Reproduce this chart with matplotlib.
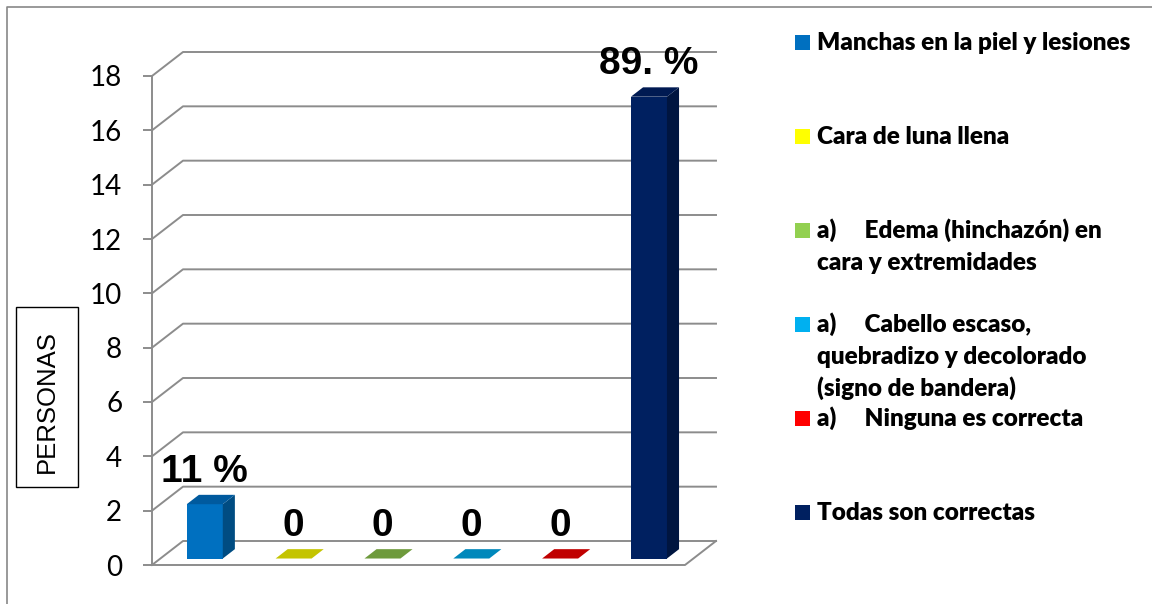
import matplotlib.pyplot as plt
from matplotlib.patches import Polygon, Rectangle
from matplotlib.lines import Line2D
from matplotlib.transforms import Affine2D
import numpy as np

# datos de la pregunta
categorias = ["Manchas en la piel y lesiones",
              "Cara de luna llena",
              "a)     Edema (hinchazón) en\ncara y extremidades",
              "a)     Cabello escaso,\nquebradizo y decolorado\n(signo de bandera)",
              "a)     Ninguna es correcta",
              "Todas son correctas"]
personas = [2, 0, 0, 0, 0, 17]
etiquetas = ["11 %", "0", "0", "0", "0", "89. %"]
marcas_y = [0, 2, 4, 6, 8, 10, 12, 14, 16, 18]

col_leyenda = ["#0070C0", "#FFFF00", "#92D050", "#00B0F0", "#FF0000", "#002060"]
col_tapa = ["#005A9E", "#C4C400", "#6E9A3C", "#0088BB", "#C00000", "#001A52"]
col_lado = ["#004C82", "#A0A000", "#5A7E30", "#006E98", "#9A0000", "#001540"]

W, H = 1152, 604
gris = "#8C8C8C"

fig = plt.figure(figsize=(W / 100, H / 100), dpi=100)
# transformacion en pixeles (origen arriba a la izquierda)
px = Affine2D().scale(1 / W, -1 / H).translate(0, 1) + fig.transFigure

ax = fig.add_axes([152 / W, (H - 565) / H, 533 / W, 489 / H])
ax.set_xlim(-0.5, 5.5)
ax.set_ylim(0, 18)
for s in ["top", "right", "bottom"]:
    ax.spines[s].set_visible(False)
ax.spines["left"].set_color(gris)
ax.spines["left"].set_linewidth(1.4)
ax.spines["left"].set_zorder(0.5)
ax.set_xticks([])
ax.set_yticks(marcas_y)
ax.tick_params(axis="y", direction="out", length=6.5, width=1.4, color=gris,
               pad=15, labelsize=20)
for t in ax.get_yticklabels():
    t.set_family("Lato")
ax.patch.set_visible(False)

# profundidad del efecto 3D en unidades de datos
ux = 533 / 6
uy = 489 / 18
dxp = 31 / ux
dyp = 24 / uy
f0, fb = 0.27, 0.39
ancho = 36 / ux

# rejilla del fondo y pared izquierda
for v in marcas_y:
    ax.plot([-0.5, -0.5 + dxp, 5.5 + dxp], [v, v + dyp, v + dyp],
            color=gris, lw=1.4, clip_on=False, zorder=0)
# borde del suelo
ax.plot([-0.5, 5.5, 5.5 + dxp], [0, 0, dyp], color=gris, lw=1.4,
        clip_on=False, zorder=0)

x = np.arange(len(personas)) + f0 * dxp
y0 = f0 * dyp
ax.bar(x, personas, width=ancho, bottom=y0, color=col_leyenda,
       linewidth=0, zorder=2, clip_on=False)
bdx, bdy = fb * dxp, fb * dyp
for i, v in enumerate(personas):
    xl = x[i] - ancho / 2
    xr = x[i] + ancho / 2
    if v > 0:
        ax.add_patch(Polygon([(xr, y0), (xr + bdx, y0 + bdy), (xr + bdx, y0 + bdy + v),
                              (xr, y0 + v)], closed=True, color=col_lado[i],
                             lw=0, zorder=2, clip_on=False))
    ax.add_patch(Polygon([(xl, y0 + v), (xr, y0 + v), (xr + bdx, y0 + v + bdy),
                          (xl + bdx, y0 + v + bdy)], closed=True, color=col_tapa[i],
                         lw=0, zorder=2, clip_on=False))
    ax.annotate(etiquetas[i], xy=(x[i], v + y0 + bdy), xytext=(0, 13),
                textcoords="offset pixels", ha="center", va="baseline",
                fontsize=28, fontweight="bold", family="Liberation Sans",
                annotation_clip=False, zorder=3)

# titulo del eje en recuadro
fig.add_artist(Rectangle((16, 307), 62, 180, transform=px, fill=False,
                         edgecolor="black", lw=1))
fig.text(47, 402, "PERSONAS", transform=px, rotation=90, ha="center",
         va="center", fontsize=18.5, family="Liberation Sans")

# leyenda
for i, (lab, c) in enumerate(zip(categorias, col_leyenda)):
    base = 50 + 94 * i
    fig.add_artist(Rectangle((795, base - 15.5), 15, 15, transform=px,
                             facecolor=c, edgecolor="none"))
    for k, linea in enumerate(lab.split("\n")):
        fig.text(817, base + 32 * k, linea, transform=px, ha="left",
                 va="baseline", fontsize=17.5, fontweight="heavy", family="Lato")

# marco del grafico
fig.add_artist(Line2D([7, 7, W], [H, 7, 7], transform=px, color="#888888", lw=1.2))

fig.savefig("out.png", dpi=100)
